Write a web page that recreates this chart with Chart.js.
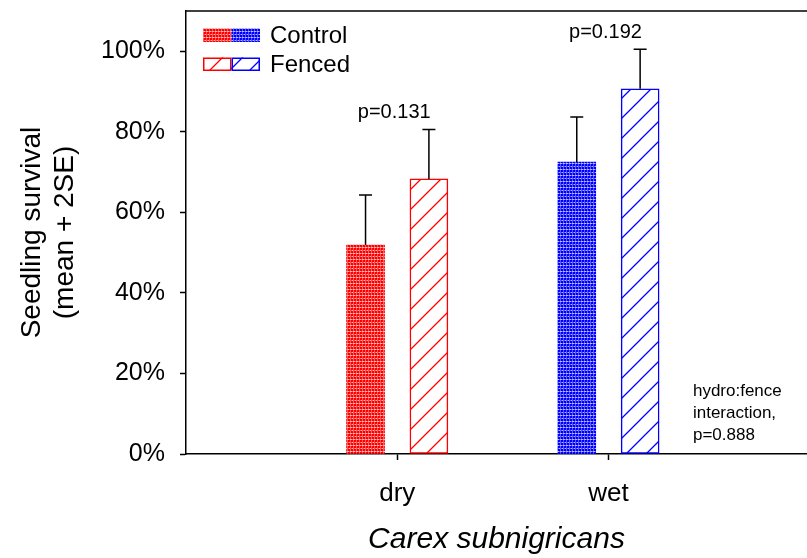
<!DOCTYPE html>
<html>
<head>
<meta charset="utf-8">
<script src="https://cdn.jsdelivr.net/npm/chart.js@4/dist/chart.umd.min.js"></script>
<style>
  html, body { margin: 0; padding: 0; background: #fff; }
  #wrap { width: 807px; height: 558px; position: relative; }
</style>
</head>
<body>
<div id="wrap"><canvas id="c"></canvas></div>
<script>
// Seedling survival of Carex subnigricans by hydrology and fencing
const categories = ['dry', 'wet'];
const seriesNames = ['Control', 'Fenced'];
const controlMean = [51.9, 72.5];
const controlUpper = [64.3, 83.7];   // mean + 2SE
const fencedMean = [68.3, 90.7];
const fencedUpper = [80.6, 100.5];   // mean + 2SE
const pLabels = ['p=0.131', 'p=0.192'];
const yTicks = [0, 20, 40, 60, 80, 100];
const noteLines = ['hydro:fence', 'interaction,', 'p=0.888'];

const RED = '#ff0000';
const BLUE = '#0000ff';
const FONT = '"Liberation Sans", Arial, Helvetica, sans-serif';

// speckled fill used for the control bars
function dotPattern(dark, mid, light) {
  const t = document.createElement('canvas');
  t.width = 6; t.height = 6;
  const g = t.getContext('2d');
  const rows = ['DDMDDM', 'LMLLML', 'DDMDDM', 'DDMDDM', 'MLMMLM', 'DDMDDM'];
  const map = { D: dark, M: mid, L: light };
  rows.forEach((r, y) => [...r].forEach((ch, x) => {
    g.fillStyle = map[ch];
    g.fillRect(x, y, 1, 1);
  }));
  return g.createPattern(t, 'repeat');
}

// diagonal hatch used for the fenced bars
function hatchPattern(color) {
  const s = 20;
  const t = document.createElement('canvas');
  t.width = s; t.height = s;
  const g = t.getContext('2d');
  g.fillStyle = '#fff';
  g.fillRect(0, 0, s, s);
  g.strokeStyle = color;
  g.lineWidth = 1.3;
  g.beginPath();
  g.moveTo(-2, s + 2); g.lineTo(s + 2, -2);
  g.moveTo(-2, 2); g.lineTo(2, -2);
  g.moveTo(s - 2, s + 2); g.lineTo(s + 2, s - 2);
  g.stroke();
  return g.createPattern(t, 'repeat');
}

const dotFill = [dotPattern('#ff0000', '#ff5a5a', '#ffb8b8'), dotPattern('#0000ff', '#5a5aff', '#b8b8ff')];
const hatchFill = [hatchPattern(RED), hatchPattern(BLUE)];
const edge = [RED, BLUE];
const groupOffset = [-0.15, 0.15];

const data = {
  datasets: [
    {
      label: seriesNames[0],
      data: categories.map((c, i) => ({ x: i + 1 + groupOffset[0], y: controlMean[i] })),
      backgroundColor: dotFill,
      borderWidth: 0
    },
    {
      label: seriesNames[1],
      data: categories.map((c, i) => ({ x: i + 1 + groupOffset[1], y: fencedMean[i] })),
      backgroundColor: hatchFill,
      borderColor: edge,
      borderWidth: 1.5,
      borderSkipped: false
    }
  ]
};

const extras = {
  id: 'extras',
  afterDatasetsDraw(chart) {
    const { ctx, chartArea, scales } = chart;
    const x = scales.x, y = scales.y;
    ctx.save();

    // top frame line
    ctx.strokeStyle = '#000';
    ctx.lineWidth = 1.5;
    ctx.beginPath();
    ctx.moveTo(chartArea.left, chartArea.top);
    ctx.lineTo(chartArea.right, chartArea.top);
    ctx.stroke();

    // error bars (mean + 2SE)
    const uppers = [controlUpper, fencedUpper];
    ctx.lineWidth = 1.5;
    uppers.forEach((up, d) => {
      chart.getDatasetMeta(d).data.forEach((bar, i) => {
        const yTop = y.getPixelForValue(up[i]);
        ctx.beginPath();
        ctx.moveTo(bar.x, bar.y);
        ctx.lineTo(bar.x, yTop);
        ctx.moveTo(bar.x - 6.5, yTop);
        ctx.lineTo(bar.x + 6.5, yTop);
        ctx.stroke();
      });
    });

    // p-values above each group
    ctx.fillStyle = '#000';
    ctx.font = '20px ' + FONT;
    ctx.textAlign = 'center';
    ctx.textBaseline = 'alphabetic';
    categories.forEach((c, i) => {
      const top = Math.max(controlUpper[i], fencedUpper[i]);
      ctx.fillText(pLabels[i], x.getPixelForValue(i + 1) - 3, y.getPixelForValue(top) - 11.5);
    });

    // interaction note
    ctx.font = '17px ' + FONT;
    ctx.textAlign = 'left';
    const nx = x.getPixelForValue(2.4);
    const ny = y.getPixelForValue(14.4);
    noteLines.forEach((t, k) => ctx.fillText(t, nx, ny + k * 22));

    // legend: two swatches per series
    const lx = chartArea.left + 17, sw = 28.5, sh = 13.5;
    const rows = [chartArea.top + 17.5, chartArea.top + 46.5];
    ctx.font = '24px ' + FONT;
    ctx.textBaseline = 'middle';
    seriesNames.forEach((name, r) => {
      const ry = rows[r];
      [0, 1].forEach(k => {
        const rx = lx + k * sw;
        if (r === 0) {
          ctx.fillStyle = dotFill[k];
          ctx.fillRect(rx, ry, sw, sh);
        } else {
          ctx.fillStyle = hatchFill[k];
          ctx.fillRect(rx, ry, sw, sh);
          ctx.strokeStyle = edge[k];
          ctx.lineWidth = 1.5;
          ctx.strokeRect(rx + 0.75, ry + 0.75, sw - 1.5, sh - 1.5);
        }
      });
      ctx.fillStyle = '#000';
      ctx.fillText(name, lx + 2 * sw + 10, ry + sh / 2 + 1);
    });

    ctx.restore();
  }
};

new Chart(document.getElementById('c'), {
  type: 'bar',
  data: data,
  plugins: [extras],
  options: {
    responsive: true,
    maintainAspectRatio: false,
    animation: false,
    devicePixelRatio: 1,
    grouped: false,
    barThickness: 38,
    layout: { padding: { top: 11, right: 0, left: 0, bottom: 0 } },
    plugins: { legend: { display: false }, tooltip: { enabled: false } },
    scales: {
      x: {
        type: 'linear',
        offset: false,
        min: 0,
        max: 2.94,
        afterBuildTicks: s => { s.ticks = categories.map((c, i) => ({ value: i + 1 })); },
        afterFit: s => { s.height = 104; s.paddingLeft = 0; s.paddingRight = 0; },
        ticks: {
          callback: (v, i) => categories[i],
          font: { family: FONT, size: 26 },
          color: '#000',
          padding: 18,
          maxRotation: 0,
          autoSkip: false
        },
        grid: { offset: false, drawOnChartArea: false, drawTicks: true, tickLength: 6, tickColor: '#000', tickWidth: 1.5 },
        border: { display: true, color: '#000', width: 1.5 },
        title: {
          display: true,
          text: 'Carex subnigricans',
          color: '#000',
          font: { family: FONT, size: 30, style: 'italic', lineHeight: 1.2 },
          padding: { top: 0, bottom: 0 }
        }
      },
      y: {
        type: 'linear',
        min: 0,
        max: 110,
        afterBuildTicks: s => { s.ticks = yTicks.map(v => ({ value: v })); },
        afterFit: s => { s.width = 186; s.paddingTop = 0; s.paddingBottom = 0; },
        ticks: {
          callback: v => v + '%',
          font: { family: FONT, size: 25 },
          color: '#000',
          padding: 15
        },
        grid: { drawOnChartArea: false, drawTicks: true, tickLength: 6, tickColor: '#000', tickWidth: 1.5 },
        border: { display: true, color: '#000', width: 1.5 },
        title: {
          display: true,
          text: ['Seedling survival', '(mean + 2SE)'],
          color: '#000',
          font: { family: FONT, size: 28, lineHeight: 1.18 },
          padding: { top: 16, bottom: 0 }
        }
      }
    }
  }
});
</script>
</body>
</html>
